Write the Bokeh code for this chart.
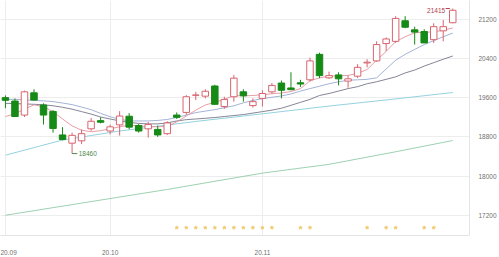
from bokeh.plotting import figure
from bokeh.models import FixedTicker, Range1d, ColumnDataSource
from bokeh.embed import file_html
from bokeh.resources import INLINE
from bokeh.core.properties import value

# ---- data ----
opens = [19600, 19530, 19245, 19698, 19450, 19319, 18840, 18672, 18720, 18965,
         19131, 18920, 19045, 19221, 19031, 18965, 18952, 18866, 19245, 19299,
         19648, 19630, 19837, 19418, 19618, 19718, 19438, 19584, 19718, 19897,
         19797, 19903, 19963, 20482, 20003, 20063, 19937, 20037, 20306, 20348,
         20701, 20747, 21166, 20981, 20947, 20781, 20961, 21126]
closes = [19545, 19215, 19718, 19550, 19245, 18972, 18746, 18832, 18866, 19119,
          19099, 19005, 19225, 18999, 18920, 19051, 18840, 19085, 19199, 19618,
          19654, 19730, 19464, 19564, 19997, 19638, 19518, 19684, 19849, 19750,
          19763, 19877, 20348, 20049, 20049, 19983, 19983, 20217, 20322, 20681,
          20795, 21214, 21034, 20935, 20715, 21046, 21046, 21380]
highs = [19645, 19584, 19744, 19770, 19484, 19345, 18999, 18886, 18952, 19185,
         19199, 19051, 19325, 19285, 19065, 19105, 19031, 19119, 19299, 19650,
         19718, 19770, 19863, 19618, 20063, 19770, 19584, 19750, 19897, 19949,
         20117, 19963, 20416, 20516, 20129, 20117, 20049, 20282, 20382, 20747,
         20827, 21260, 21260, 21046, 20994, 21114, 21180, 21415]
lows = [19385, 19205, 19205, 19544, 19051, 18886, 18730, 18460, 18652, 18925,
        19075, 18852, 18826, 18955, 18886, 18786, 18800, 18840, 19165, 19251,
        19550, 19584, 19450, 19371, 19518, 19518, 19398, 19418, 19684, 19584,
        19750, 19817, 19929, 19997, 19983, 19849, 19803, 19997, 20216, 20328,
        20548, 20715, 21014, 20681, 20715, 20715, 20747, 21114]

ma5 = [19215, 19271, 19365, 19454, 19414, 19315, 19165, 19025, 18936, 18906,
       18926, 18966, 19006, 19035, 19025, 19011, 19006, 19015, 19105, 19225,
       19345, 19450, 19504, 19564, 19644, 19634, 19644, 19658, 19680, 19694,
       19724, 19784, 19943, 20003, 20037, 20043, 20053, 20093, 20173, 20362,
       20542, 20741, 20841, 20921, 20931, 20941, 20970, 21020]
ma10 = [19564, 19564, 19554, 19544, 19534, 19518, 19490, 19458, 19408, 19355,
        19279, 19211, 19159, 19125, 19125, 19125, 19135, 19155, 19195, 19245,
        19295, 19325, 19355, 19394, 19434, 19494, 19544, 19578, 19608, 19634,
        19674, 19734, 19784, 19833, 19883, 19923, 19953, 19963, 19973, 20003,
        20183, 20362, 20482, 20582, 20681, 20761, 20841, 20915]
ma20 = [19484, 19478, 19472, 19464, 19454, 19434, 19404, 19365, 19315, 19265,
        19205, 19165, 19125, 19095, 19075, 19065, 19065, 19085, 19125, 19151,
        19165, 19179, 19195, 19215, 19235, 19255, 19285, 19315, 19345, 19384,
        19444, 19504, 19564, 19644, 19684, 19734, 19784, 19823, 19883, 19923,
        19973, 20023, 20103, 20162, 20242, 20312, 20382, 20448]
ma60_idx = [0, 6, 12, 20, 25, 34, 41, 47]
ma60 = [18427, 18736, 18920, 19115, 19225, 19428, 19574, 19704]
ma120_idx = [0, 8, 17, 27, 34, 41, 47]
ma120 = [17204, 17451, 17729, 18062, 18241, 18497, 18726]

signal_idx = [18, 19, 20, 21, 22, 23, 24, 25, 26, 27, 28, 31, 32, 38, 40, 41, 44, 45]
signal_level = 16950

month_ticks = [0, 11, 27]
month_labels = ["20.09", "20.10", "20.11"]
price_ticks = [17200, 18000, 18800, 19600, 20400, 21200]

# ---- styles ----
UP = "#d8646f"
DOWN = "#168a16"
FONT = "Liberation Sans"

n = len(opens)
idx = list(range(n))
is_up = [c >= o for o, c in zip(opens, closes)]
src = ColumnDataSource(dict(
    x=idx, o=opens, c=closes, h=highs, l=lows,
    top=[max(o, c) for o, c in zip(opens, closes)],
    bot=[min(o, c) for o, c in zip(opens, closes)],
    col=[UP if u else DOWN for u in is_up],
    fill=["white" if u else DOWN for u in is_up],
))

p = figure(width=499, height=257, output_backend="svg", toolbar_location=None,
           x_range=Range1d(-0.52, 48.76), y_range=Range1d(16791, 21579),
           y_axis_location="right",
           min_border_left=0, min_border_right=25, min_border_top=0, min_border_bottom=17)
p.outline_line_color = None
p.background_fill_color = "white"
p.border_fill_color = "white"

# axes
p.yaxis.ticker = FixedTicker(ticks=price_ticks)
p.yaxis.major_tick_line_color = None
p.yaxis.minor_tick_line_color = None
p.yaxis.axis_line_color = "#e4e4e4"
p.yaxis.major_label_text_font_size = "6.5px"
p.yaxis.major_label_text_color = "#707070"
p.yaxis.major_label_text_font = FONT
p.yaxis.major_label_standoff = 3

p.xaxis.ticker = FixedTicker(ticks=month_ticks)
p.xaxis.major_label_overrides = {t: l for t, l in zip(month_ticks, month_labels)}
p.xaxis.major_label_text_align = "left"
p.xaxis.major_tick_line_color = None
p.xaxis.minor_tick_line_color = None
p.xaxis.axis_line_color = "#e4e4e4"
p.xaxis.major_label_text_font_size = "6.5px"
p.xaxis.major_label_text_color = "#707070"
p.xaxis.major_label_text_font = FONT
p.xaxis.major_label_standoff = 8

p.xgrid.grid_line_color = "#ededed"
p.ygrid.grid_line_color = "#ededed"

# moving averages
p.line(ma120_idx, ma120, line_color="#92cca8", line_width=0.9)
p.line(ma60_idx, ma60, line_color="#88cddc", line_width=0.9)
p.line(idx, ma20, line_color="#77778a", line_width=0.9)
p.line(idx, ma10, line_color="#98aad2", line_width=0.9)
p.line(idx, ma5, line_color="#e3929d", line_width=0.9)

# candles
p.segment(x0="x", y0="h", x1="x", y1="l", line_color="col", line_width=1, source=src)
p.vbar(x="x", top="top", bottom="bot", width=0.68, fill_color="fill",
       line_color="col", line_width=1, source=src)

# high / low markers
hi_i = max(range(n), key=lambda i: highs[i])
lo_i = min(range(n), key=lambda i: lows[i])
p.segment(x0=[hi_i - 0.75], y0=[highs[hi_i]], x1=[hi_i - 0.3], y1=[highs[hi_i]],
          line_color="#b0404e", line_width=1)
p.text(x=[hi_i - 0.8], y=[highs[hi_i]], text=[str(highs[hi_i])], text_align="right",
       text_baseline="middle", y_offset=2, text_font=value(FONT), text_font_size="6.5px",
       text_color="#b0404e")
p.segment(x0=[lo_i], y0=[lows[lo_i]], x1=[lo_i + 0.55], y1=[lows[lo_i]],
          line_color="#4f8a4f", line_width=1)
p.text(x=[lo_i + 0.7], y=[lows[lo_i]], text=[str(lows[lo_i])], text_align="left",
       text_baseline="middle", text_font=value(FONT), text_font_size="6.5px",
       text_color="#4f8a4f")

# signal stars
p.scatter(x=signal_idx, y=[signal_level] * len(signal_idx), marker="star", size=3.5,
          fill_color="#f2cc72", line_color="#f2cc72")

open("out.html", "w").write(file_html(p, INLINE))
